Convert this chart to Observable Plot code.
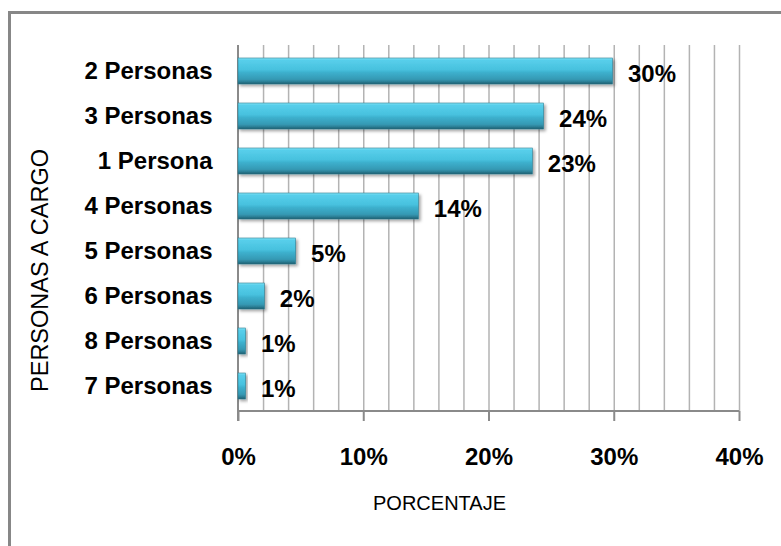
<!DOCTYPE html>
<html>
<head>
<meta charset="utf-8">
<script src="https://cdn.jsdelivr.net/npm/d3@7"></script>
<script src="https://cdn.jsdelivr.net/npm/@observablehq/plot@0.6"></script>
<style>
  html, body { margin: 0; padding: 0; background: #fff; }
  #wrap { position: relative; width: 781px; height: 546px; overflow: hidden; }
  #frame { position: absolute; left: 8px; top: 11px; right: 0; bottom: 0;
           border-top: 3px solid #878787; border-left: 3px solid #878787; }
  #chart { position: absolute; left: 0; top: 0; }
</style>
</head>
<body>
<div id="wrap"><div id="frame"></div><div id="chart"></div></div>
<script>
const categories = ["2 Personas", "3 Personas", "1 Persona", "4 Personas", "5 Personas", "6 Personas", "8 Personas", "7 Personas"];
const values = [29.9, 24.4, 23.5, 14.4, 4.6, 2.1, 0.6, 0.6];
const labels = ["30%", "24%", "23%", "14%", "5%", "2%", "1%", "1%"];
const xTicks = [0, 10, 20, 30, 40];
const gridTicks = [2, 4, 6, 8, 10, 12, 14, 16, 18, 20, 22, 24, 26, 28, 30, 32, 34, 36, 38, 40];
const xTitle = "PORCENTAJE";
const yTitle = "PERSONAS A CARGO";

const data = categories.map((c, i) => ({cat: c, value: values[i], label: labels[i]}));

function defsMark() {
  const defs = d3.create("svg:defs");
  const g = defs.append("linearGradient").attr("id", "barGrad")
    .attr("x1", 0).attr("y1", 0).attr("x2", 0).attr("y2", 1);
  [[0, "#8ae6f8"], [0.08, "#58cfeb"], [0.45, "#47c1de"], [0.56, "#3db0cd"], [0.82, "#3599b4"], [0.92, "#2b7d93"], [1, "#20586a"]]
    .forEach(([o, c]) => g.append("stop").attr("offset", o).attr("stop-color", c));
  const f = defs.append("filter").attr("id", "shadow").attr("x", "-10%").attr("y", "-20%").attr("width", "130%").attr("height", "160%");
  f.append("feDropShadow").attr("dx", 2).attr("dy", 2).attr("stdDeviation", 1.5).attr("flood-color", "#000").attr("flood-opacity", 0.35);
  return defs.node();
}

function axisLines(index, scales, values, dimensions) {
  const {height, marginBottom, marginTop} = dimensions;
  const y0 = height - marginBottom;
  const g = d3.create("svg:g");
  g.append("line").attr("x1", scales.x(0)).attr("x2", scales.x(40))
    .attr("y1", y0).attr("y2", y0).attr("stroke", "#8a8a8a").attr("stroke-width", 2);
  g.append("line").attr("x1", scales.x(0)).attr("x2", scales.x(0))
    .attr("y1", marginTop).attr("y2", y0 + 10).attr("stroke", "#8a8a8a").attr("stroke-width", 2);
  return g.node();
}

const chart = Plot.plot({
  width: 781,
  height: 546,
  marginLeft: 238,
  marginRight: 42,
  marginTop: 45,
  marginBottom: 135,
  style: {fontFamily: "Liberation Sans, Arial, sans-serif", fontSize: "24px", fontWeight: "bold", background: "transparent", color: "#000", overflow: "visible"},
  x: {domain: [0, 40]},
  y: {domain: categories, paddingInner: 0.43, paddingOuter: 0.215},
  marks: [
    defsMark,
    Plot.gridX(gridTicks, {stroke: "#b3b3b3", strokeOpacity: 1, strokeWidth: 1.5}),
    axisLines,
    Plot.barX(data, {x: "value", y: "cat", fill: "url(#barGrad)", stroke: "#2a7d92", strokeWidth: 0.6}),
    Plot.text(data, {x: "value", y: "cat", text: "label", dx: 15, dy: 3, textAnchor: "start", fill: "#000"}),
    Plot.axisX(xTicks, {tickSize: 10, tickPadding: 26, stroke: "#8a8a8a", fill: "#000", strokeWidth: 2, tickFormat: d => d + "%", label: null}),
    Plot.axisY({tickSize: 0, tickPadding: 26, fill: "#000", label: null}),
    Plot.text([xTitle], {frameAnchor: "bottom-left", textAnchor: "middle", dx: 201, dy: 98, fontSize: 20, fontWeight: "normal", fill: "#000"}),
    Plot.text([yTitle], {frameAnchor: "left", textAnchor: "middle", rotate: -90, dx: -198, dy: 42, fontSize: 23.5, fontWeight: "normal", fill: "#000"})
  ]
});
chart.querySelectorAll("g[aria-label='bar'] rect").forEach(r => r.setAttribute("filter", "url(#shadow)"));
document.getElementById("chart").appendChild(chart);
</script>
</body>
</html>
